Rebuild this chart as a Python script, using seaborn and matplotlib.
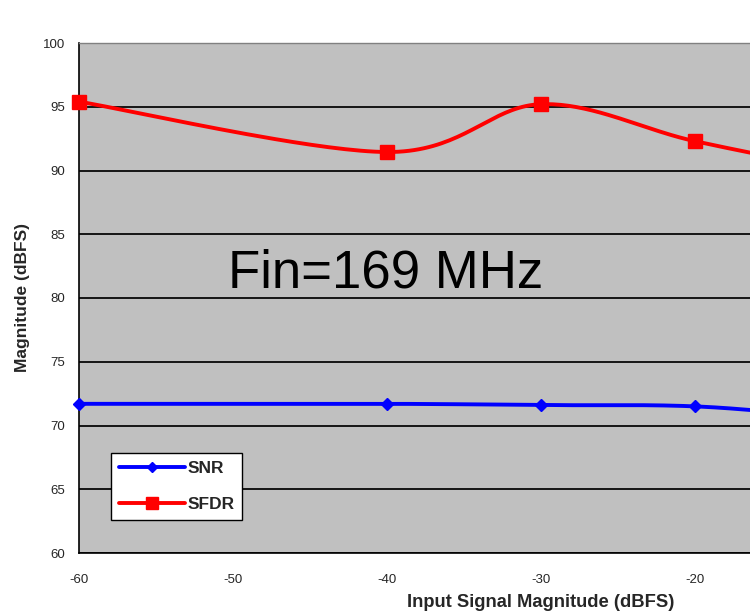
import numpy as np
import pandas as pd
import matplotlib
matplotlib.use("Agg")
import matplotlib.pyplot as plt
import seaborn as sns

# Data
input_dbfs = [-60, -40, -30, -20, -10, 0]
snr = [71.7, 71.7, 71.6, 71.5, 70.6, 70.2]
sfdr = [95.4, 91.45, 95.2, 92.3, 90.0, 88.5]
x_ticks = [-60, -50, -40, -30, -20]
y_ticks = [60, 65, 70, 75, 80, 85, 90, 95, 100]
series_names = ["SNR", "SFDR"]
annotation = "Fin=169 MHz"


def smooth(xs, ys, n=40):
    """Excel-style smoothed line (Bezier through the points)."""
    xs = np.asarray(xs, float)
    ys = np.asarray(ys, float)
    P = np.column_stack([xs, ys])
    out = []
    for i in range(len(P) - 1):
        p0 = P[i - 1] if i > 0 else P[i]
        p1 = P[i]
        p2 = P[i + 1]
        p3 = P[i + 2] if i + 2 < len(P) else P[i + 1]
        c1 = p1 + (p2 - p0) / 6.0
        c2 = p2 - (p3 - p1) / 6.0
        t = np.linspace(0, 1, n)[:, None]
        seg = ((1 - t) ** 3) * p1 + 3 * ((1 - t) ** 2) * t * c1 + 3 * (1 - t) * t ** 2 * c2 + t ** 3 * p2
        out.append(seg if i == 0 else seg[1:])
    s = np.vstack(out)
    return s[:, 0], s[:, 1]


sns.set_style("white")
plt.rcParams["font.family"] = ["Liberation Sans", "DejaVu Sans"]

fig = plt.figure(figsize=(7.5, 6.15), dpi=100)
W, H = 750, 615
left_px, right_px, top_px, bot_px = 79, 79 + 154 * 6, 43, 553
ax = fig.add_axes([left_px / W, 1 - bot_px / H, (right_px - left_px) / W, (bot_px - top_px) / H])
ax.set_facecolor("#C0C0C0")

colors = {"SNR": "#0000FF", "SFDR": "#FF0000"}
markers = {"SNR": "D", "SFDR": "s"}
msize = {"SNR": 6, "SFDR": 9.5}

handles = []
for name, vals in zip(series_names, [snr, sfdr]):
    sx, sy = smooth(input_dbfs, vals)
    df_line = pd.DataFrame({"x": sx, "y": sy})
    sns.lineplot(data=df_line, x="x", y="y", ax=ax, color=colors[name], lw=2.8,
                 sort=False, estimator=None, zorder=3)
    df_pts = pd.DataFrame({"x": input_dbfs, "y": vals})
    ax.plot(df_pts["x"], df_pts["y"], ls="none", marker=markers[name],
            ms=msize[name], color=colors[name], mec=colors[name], zorder=4, clip_on=False)
    h, = ax.plot([], [], color=colors[name], lw=2.8, marker=markers[name],
                 ms=msize[name] * 0.85, label=name)
    handles.append(h)

ax.set_xlim(-60, 0)
ax.set_ylim(60, 100)
ax.set_xticks(x_ticks)
ax.set_yticks(y_ticks)
ax.set_xticklabels([str(v) for v in x_ticks], fontsize=9.5)
ax.set_yticklabels([str(v) for v in y_ticks], fontsize=9.5)
ax.grid(axis="y", color="#151515", lw=1.4)
ax.grid(axis="x", visible=False)
ax.set_axisbelow(True)
for s in ["top", "right"]:
    ax.spines[s].set_color("#808080")
    ax.spines[s].set_linewidth(1.0)
for s in ["left", "bottom"]:
    ax.spines[s].set_color("black")
    ax.spines[s].set_linewidth(1.2)
ax.tick_params(axis="both", direction="out", length=6, width=1.2, color="black", pad=4)
ax.tick_params(axis="x", pad=9)

ax.set_ylabel("Magnitude (dBFS)", fontsize=12.5, fontweight="bold", labelpad=9)
ax.set_xlabel("Input Signal Magnitude (dBFS)", fontsize=13.2, fontweight="bold", labelpad=6)

ax.text(-50.3, 80.85, annotation, fontsize=38, color="black", ha="left", va="baseline")

leg = ax.legend(handles=handles, loc="upper left",
                bbox_to_anchor=((111 - left_px) / (right_px - left_px), (bot_px - 453) / (bot_px - top_px)),
                frameon=True, fancybox=False, edgecolor="black", facecolor="white", framealpha=1.0,
                prop={"weight": "bold", "size": 12.5}, handlelength=3.8,
                handletextpad=0.15, borderpad=0.45, labelspacing=1.2, borderaxespad=0)
leg.get_frame().set_linewidth(1.0)

fig.savefig("out.png", dpi=100)
